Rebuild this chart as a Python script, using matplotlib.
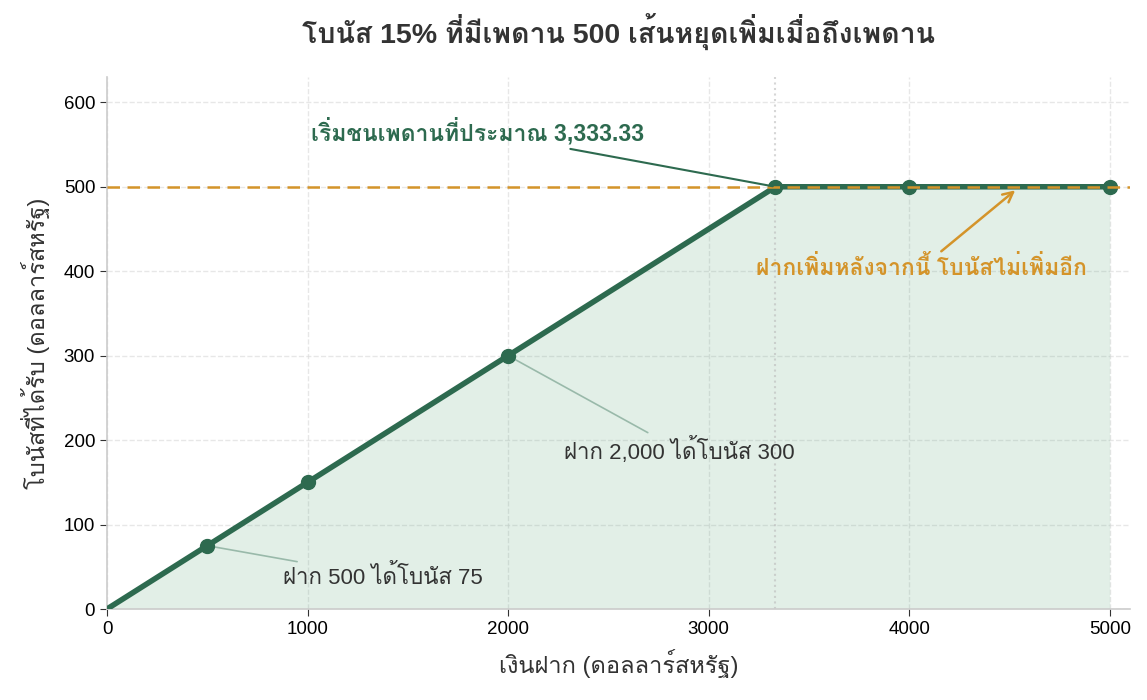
import matplotlib
matplotlib.use("Agg")
import matplotlib.pyplot as plt
import numpy as np

# data
deposits = [0, 500, 1000, 2000, 3333.33, 4000, 5000]
bonus = [0, 75, 150, 300, 500, 500, 500]
marker_x = [500, 1000, 2000, 3333.33, 4000, 5000]
marker_y = [75, 150, 300, 500, 500, 500]
cap = 500
cap_point = 3333.33

title = "โบนัส 15% ที่มีเพดาน 500 เส้นหยุดเพิ่มเมื่อถึงเพดาน"
xlabel = "เงินฝาก (ดอลลาร์สหรัฐ)"
ylabel = "โบนัสที่ได้รับ (ดอลลาร์สหรัฐ)"
note_cap = "เริ่มชนเพดานที่ประมาณ 3,333.33"
note_flat = "ฝากเพิ่มหลังจากนี้ โบนัสไม่เพิ่มอีก"
note_500 = "ฝาก 500 ได้โบนัส 75"
note_2000 = "ฝาก 2,000 ได้โบนัส 300"

green = "#2d6a4f"
orange = "#d4942a"
dark = "#333333"

plt.rcParams['font.family'] = ['Liberation Sans', 'Loma', 'DejaVu Sans']

fig = plt.figure(figsize=(11.47, 7.0), dpi=100)
ax = fig.add_axes([0.0933, 0.13, 0.8917, 0.76])

ax.fill_between(deposits, bonus, 0, color='#5fa77f', alpha=0.18, linewidth=0, zorder=1)
ax.plot(deposits, bonus, color=green, lw=4, solid_capstyle='round', zorder=3)
ax.plot(marker_x, marker_y, 'o', color=green, ms=10, zorder=4)
ax.axhline(cap, color=orange, lw=1.8, ls=(0, (5, 3)), zorder=5)
ax.axvline(cap_point, color='#bbbbbb', lw=1.5, ls=':', alpha=0.6, zorder=2)

ax.set_xlim(0, 5100)
ax.set_ylim(0, 630)
ax.set_xticks([0, 1000, 2000, 3000, 4000, 5000])
ax.set_yticks([0, 100, 200, 300, 400, 500, 600])
ax.grid(True, ls='--', color='#dddddd', lw=1, alpha=0.7, zorder=0)
ax.set_axisbelow(True)

for s in ['top', 'right']:
    ax.spines[s].set_visible(False)
for s in ['left', 'bottom']:
    ax.spines[s].set_color('#cccccc')
    ax.spines[s].set_linewidth(1.2)
ax.tick_params(labelsize=13.5, colors='black', length=5)
ax.tick_params(axis='both', color='#333333')

ax.set_title(title, fontsize=20.5, fontweight='bold', color=dark, pad=24)
ax.set_xlabel(xlabel, fontsize=17, color=dark, labelpad=8)
ax.set_ylabel(ylabel, fontsize=17, color=dark, labelpad=10)

ax.annotate(note_cap, xy=(cap_point, cap), xytext=(1850, 565),
            ha='center', va='center', fontsize=16.5, fontweight='bold', color=green,
            arrowprops=dict(arrowstyle='-', color=green, lw=1.5), zorder=6)
ax.annotate(note_flat, xy=(4550, cap), xytext=(4060, 404),
            ha='center', va='center', fontsize=16.5, fontweight='bold', color=orange,
            arrowprops=dict(arrowstyle='->', color=orange, lw=1.8, shrinkB=4,
                            mutation_scale=18), zorder=6)
ax.annotate(note_500, xy=(500, 75), xytext=(1376, 38),
            ha='center', va='center', fontsize=16, color=dark,
            arrowprops=dict(arrowstyle='-', color=green, lw=1.2, alpha=0.4), zorder=6)
ax.annotate(note_2000, xy=(2000, 300), xytext=(2856, 188),
            ha='center', va='center', fontsize=16, color=dark,
            arrowprops=dict(arrowstyle='-', color=green, lw=1.2, alpha=0.4), zorder=6)

fig.savefig("out.png", dpi=100)
